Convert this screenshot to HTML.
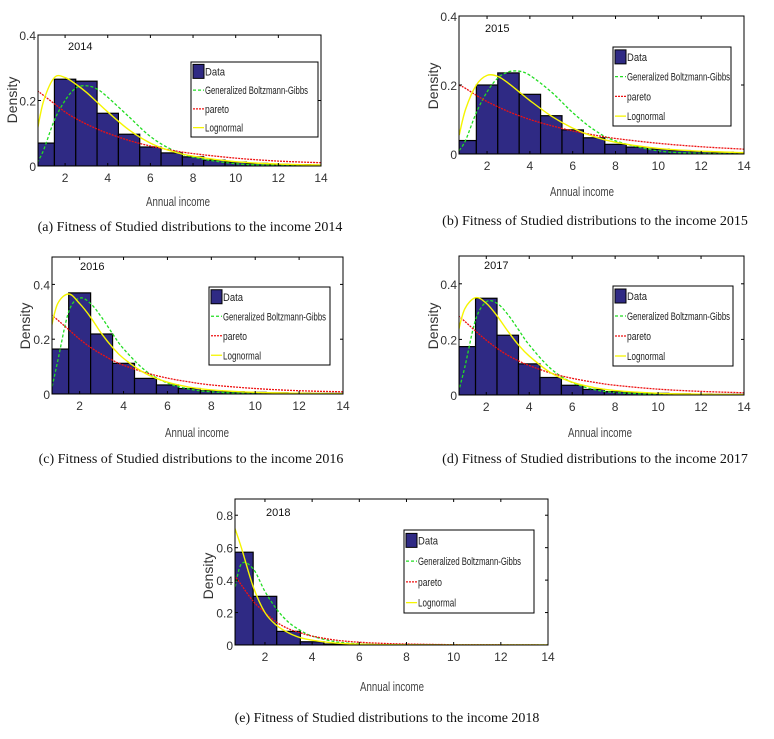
<!DOCTYPE html>
<html><head><meta charset="utf-8"><style>
html,body{margin:0;padding:0;background:#fff;}
svg{display:block;}
</style></head><body>
<svg id="fig" width="774" height="739" viewBox="0 0 774 739" xmlns="http://www.w3.org/2000/svg"></svg>
<script>
// ---- data ----
const binCenters = [1,2,3,4,5,6,7,8,9,10,11,12,13,14];
const xTicks = [2,4,6,8,10,12,14];
const curveX = [0.7,1,1.5,2,2.5,3,3.5,4,5,6,7,8,10,12,14];

const bars2014 = [0.07,0.265,0.259,0.161,0.097,0.058,0.04,0.028,0.018,0.012,0.008,0.005,0.004,0.003];
const logn2014 = [0.11,0.2,0.27,0.27,0.25,0.225,0.195,0.165,0.11,0.07,0.045,0.03,0.013,0.006,0.003];
const gbg2014 = [0.01,0.05,0.14,0.2,0.238,0.245,0.235,0.21,0.15,0.09,0.05,0.027,0.007,0.002,0.0005];
const par2014 = [0.23,0.215,0.19,0.165,0.145,0.128,0.113,0.1,0.078,0.061,0.048,0.038,0.024,0.015,0.01];

const bars2015 = [0.039,0.2,0.235,0.173,0.111,0.07,0.047,0.028,0.02,0.014,0.01,0.007,0.005,0.004];
const logn2015 = [0.055,0.13,0.2,0.228,0.225,0.205,0.18,0.155,0.11,0.075,0.05,0.034,0.016,0.008,0.004];
const gbg2015 = [0.01,0.04,0.12,0.18,0.22,0.238,0.24,0.228,0.18,0.12,0.07,0.038,0.009,0.002,0.0005];
const par2015 = [0.2,0.19,0.17,0.152,0.137,0.123,0.111,0.1,0.082,0.067,0.055,0.045,0.031,0.021,0.014];

const bars2016 = [0.164,0.369,0.219,0.112,0.057,0.033,0.02,0.012,0.008,0.006,0.004,0.003,0.002,0.002];
const logn2016 = [0.24,0.33,0.365,0.33,0.28,0.22,0.17,0.13,0.075,0.043,0.025,0.015,0.006,0.003,0.001];
const gbg2016 = [0.01,0.12,0.3,0.35,0.33,0.28,0.22,0.165,0.085,0.04,0.018,0.008,0.001,0,0];
const par2016 = [0.29,0.27,0.235,0.2,0.17,0.145,0.123,0.105,0.078,0.058,0.044,0.033,0.02,0.012,0.008];

const bars2017 = [0.174,0.348,0.215,0.112,0.063,0.035,0.02,0.012,0.008,0.006,0.004,0.003,0.002,0.002];
const logn2017 = [0.23,0.31,0.35,0.33,0.285,0.23,0.18,0.14,0.08,0.046,0.027,0.016,0.006,0.003,0.001];
const gbg2017 = [0.01,0.1,0.27,0.335,0.33,0.29,0.235,0.18,0.095,0.045,0.02,0.009,0.002,0,0];
const par2017 = [0.285,0.265,0.23,0.197,0.168,0.143,0.123,0.106,0.079,0.06,0.046,0.035,0.021,0.013,0.008];

const bars2018 = [0.572,0.3,0.084,0.02,0.006,0.003,0.002,0.001,0.001,0,0,0,0,0];
const logn2018 = [0.73,0.6,0.36,0.2,0.12,0.075,0.045,0.03,0.012,0.005,0.002,0.001,0,0,0];
const gbg2018 = [0.33,0.5,0.47,0.33,0.22,0.14,0.09,0.055,0.02,0.007,0.002,0.001,0,0,0];
const par2018 = [0.43,0.37,0.27,0.2,0.14,0.1,0.075,0.055,0.03,0.017,0.01,0.006,0.002,0.001,0];

const yTicksA = [0,0.2,0.4];
const yTicksE = [0,0.2,0.4,0.6,0.8];

const panels = [
 {id:'a',year:'2014',bars:bars2014,logn:logn2014,gbg:gbg2014,par:par2014,box:[38,35,321,166],xmin:0.73,ymax:0.4,yt:yTicksA,
  leg:[191,62,318,137],title:[68,50],cap:'(a) Fitness of Studied distributions to the income 2014',capX:190,capY:231,xl:[178,206],yl:[17,100]},
 {id:'b',year:'2015',bars:bars2015,logn:logn2015,gbg:gbg2015,par:par2015,box:[459,16,744,154],xmin:0.69,ymax:0.4,yt:yTicksA,
  leg:[613,47,731,126],title:[485,32],cap:'(b) Fitness of Studied distributions to the income 2015',capX:595,capY:225,xl:[582,196],yl:[438,86]},
 {id:'c',year:'2016',bars:bars2016,logn:logn2016,gbg:gbg2016,par:par2016,box:[52,257,343,394],xmin:0.74,ymax:0.5,yt:yTicksA,
  leg:[209,287,330,365],title:[80,270],cap:'(c) Fitness of Studied distributions to the income 2016',capX:191,capY:463,xl:[197,437],yl:[30,326]},
 {id:'d',year:'2017',bars:bars2017,logn:logn2017,gbg:gbg2017,par:par2017,box:[459,256,744,395],xmin:0.73,ymax:0.5,yt:yTicksA,
  leg:[613,286,733,366],title:[484,269],cap:'(d) Fitness of Studied distributions to the income 2017',capX:595,capY:463,xl:[600,437],yl:[438,326]},
 {id:'e',year:'2018',bars:bars2018,logn:logn2018,gbg:gbg2018,par:par2018,box:[235,499,548,645],xmin:0.73,ymax:0.9,yt:yTicksE,
  leg:[404,530,534,613],title:[266,516],cap:'(e) Fitness of Studied distributions to the income 2018',capX:387,capY:722,xl:[392,691],yl:[213,576]}
];

const NS='http://www.w3.org/2000/svg';
const svg=document.getElementById('fig');
function mk(tag,attrs,parent){const e=document.createElementNS(NS,tag);for(const k in attrs)e.setAttribute(k,attrs[k]);(parent||svg).appendChild(e);return e;}

function smoothPath(pts){
  let d='M'+pts[0][0].toFixed(2)+','+pts[0][1].toFixed(2);
  for(let i=0;i<pts.length-1;i++){
    const p0=pts[i-1]||pts[i],p1=pts[i],p2=pts[i+1],p3=pts[i+2]||p2;
    const c1=[p1[0]+(p2[0]-p0[0])/6,p1[1]+(p2[1]-p0[1])/6];
    const c2=[p2[0]-(p3[0]-p1[0])/6,p2[1]-(p3[1]-p1[1])/6];
    d+=' C'+c1[0].toFixed(2)+','+c1[1].toFixed(2)+' '+c2[0].toFixed(2)+','+c2[1].toFixed(2)+' '+p2[0].toFixed(2)+','+p2[1].toFixed(2);
  }
  return d;
}

const defs=mk('defs',{});
panels.forEach(p=>{
  const [L,T,R,B]=p.box;
  const xs=v=>L+(v-p.xmin)/(14-p.xmin)*(R-L);
  const ys=v=>B-v/p.ymax*(B-T);
  const g=mk('g',{});
  
  
  const cp=mk('clipPath',{id:'clip'+p.id},defs);
  mk('rect',{x:L,y:T,width:R-L,height:B-T},cp);
  mk('rect',{x:L,y:T,width:R-L,height:B-T,fill:'#fff'},g);
  const plot=mk('g',{'clip-path':'url(#clip'+p.id+')'},g);
  // bars
  p.bars.forEach((v,i)=>{
    const c=binCenters[i];
    const x0=Math.max(xs(c-0.5),L), x1=xs(c+0.5);
    const r=mk('rect',{x:x0,y:ys(v),width:x1-x0,height:B-ys(v),fill:'#2f2a84',stroke:'#000','stroke-width':1.2},plot);
    
    
  });
  // curves
  const curves=[[p.gbg,'#22dd22','3,2',1.3,'gbg-curve'],[p.par,'#ee1111','2,1',1.3,'pareto-curve'],[p.logn,'#f5f500',null,1.4,'lognormal-curve']];
  curves.forEach(([arr,col,dash,w,name])=>{
    const pts=arr.map((v,i)=>[xs(curveX[i]),ys(v)]);
    const a={d:smoothPath(pts),fill:'none',stroke:col,'stroke-width':w};
    if(dash)a['stroke-dasharray']=dash;
    const path=mk('path',a,plot);
    
    
  });
  // axes box
  const box=mk('rect',{x:L,y:T,width:R-L,height:B-T,fill:'none',stroke:'#000','stroke-width':1},g);
  
  
  // x ticks
  xTicks.forEach(t=>{
    const x=xs(t);
    mk('line',{x1:x,y1:B,x2:x,y2:B-3,stroke:'#000'},g);
    mk('line',{x1:x,y1:T,x2:x,y2:T+3,stroke:'#000'},g);
    const tx=mk('text',{x:x,y:B+16,'text-anchor':'middle','font-size':12,fill:'#333','font-family':'Liberation Sans, sans-serif'},g);
    tx.textContent=t;
    
    
  });
  p.yt.forEach(t=>{
    const y=ys(t);
    mk('line',{x1:L,y1:y,x2:L+3,y2:y,stroke:'#000'},g);
    mk('line',{x1:R,y1:y,x2:R-3,y2:y,stroke:'#000'},g);
    const ty=mk('text',{x:L-2,y:y+5,'text-anchor':'end','font-size':12,fill:'#333','font-family':'Liberation Sans, sans-serif'},g);
    ty.textContent=t;
    
    
  });
  // titles
  const yr=mk('text',{x:p.title[0],y:p.title[1],'font-size':11,fill:'#111','font-family':'Liberation Sans, sans-serif'},g);
  yr.textContent=p.year;
  
  
  const xl=mk('text',{x:p.xl[0],y:p.xl[1],'text-anchor':'middle','font-size':13,fill:'#444','font-family':'Liberation Sans, sans-serif',textLength:64,lengthAdjust:'spacingAndGlyphs'},g);
  xl.textContent='Annual income';
  
  
  const yl=mk('text',{x:0,y:0,'text-anchor':'middle','font-size':14,fill:'#333','font-family':'Liberation Sans, sans-serif',transform:'translate('+p.yl[0]+','+p.yl[1]+') rotate(-90)'},g);
  yl.textContent='Density';
  
  
  // legend
  const [lL,lT,lR,lB]=p.leg;
  const lg=mk('g',{},g);
  
  
  mk('rect',{x:lL,y:lT,width:lR-lL,height:lB-lT,fill:'#fff',stroke:'#000','stroke-width':1},lg);
  const rh=(lB-lT)/4;
  const labels=['Data','Generalized Boltzmann-Gibbs','pareto','Lognormal'];
  const lens=[20,103,24,38];
  labels.forEach((lab,i)=>{
    const cy=lT+rh*(i+0.5);
    if(i===0){mk('rect',{x:lL+2,y:cy-7,width:11,height:14,fill:'#2f2a84',stroke:'#000'},lg);}
    else{
      const cols=['','#22dd22','#ee1111','#f5f500'];
      const a={x1:lL+2,y1:cy,x2:lL+13,y2:cy,stroke:cols[i],'stroke-width':1.3};
      if(i===1)a['stroke-dasharray']='3,2';
      if(i===2)a['stroke-dasharray']='2,1';
      mk('line',a,lg);
    }
    const t=mk('text',{x:lL+14,y:cy+4,'font-size':11,fill:'#222','font-family':'Liberation Sans, sans-serif',textLength:lens[i],lengthAdjust:'spacingAndGlyphs'},lg);
    t.textContent=lab;
    
    
  });
  const cap=mk('text',{x:p.capX,y:p.capY,'text-anchor':'middle','font-size':14,fill:'#111','font-family':'Liberation Serif, serif'},svg);
  cap.textContent=p.cap;
  
  
});
</script>
</body></html>
